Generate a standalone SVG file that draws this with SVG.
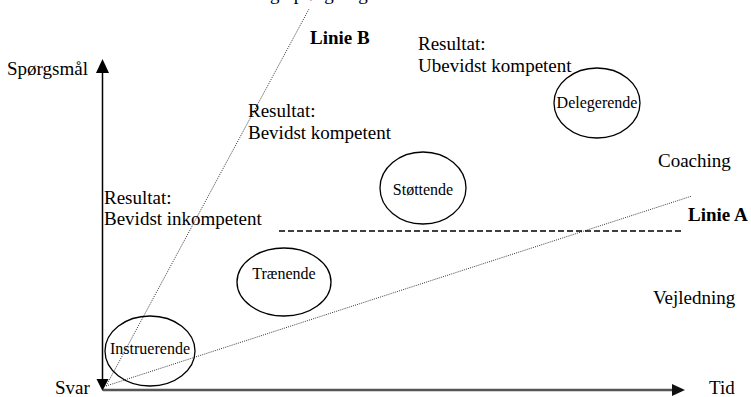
<svg xmlns="http://www.w3.org/2000/svg" width="751" height="397" viewBox="0 0 751 397">
  <style>
    text { font-family: "Liberation Serif", "DejaVu Serif", "Times New Roman", serif; fill: #000; }
    .t { font-size: 19px; }
    .b { font-weight: bold; }
    .n { font-size: 16px; text-anchor: middle; }
    .node ellipse { fill: none; stroke: #000; stroke-width: 1.3; }
    .dot { fill: none; stroke: #333; stroke-width: 1; stroke-dasharray: 1 1.2; }
    .dash { fill: none; stroke: #000; stroke-width: 1.3; stroke-dasharray: 6 3; }
  </style>
  <rect width="751" height="397" fill="#fff"/>

  <!-- heading, mostly above the top edge -->
  <text class="t" font-family="Liberation Serif, serif" x="156" y="-0.5">Ledelsesmæssig opfølgning</text>

  <g id="connectors">
    <!-- axes -->
    <line x1="102.5" y1="72" x2="102.5" y2="380" stroke="#000" stroke-width="1.5"/>
    <polygon points="102.5,59 96,73 109,73" fill="#000"/>
    <polygon points="102.5,391 96.5,379 108.5,379" fill="#000"/>
    <line x1="103" y1="390" x2="674" y2="390" stroke="#555" stroke-width="2.5"/>
    <polygon points="685,390 672,384 672,396" fill="#111"/>
    <!-- Linie B and Linie A -->
    <line class="dot" x1="106" y1="386" x2="309" y2="9"/>
    <line class="dot" x1="106" y1="386" x2="692" y2="196"/>
    <!-- boundary between coaching and vejledning -->
    <line class="dash" x1="279" y1="231" x2="681" y2="231"/>
  </g>

  <g id="instruerende" class="node">
    <ellipse cx="150" cy="351" rx="45" ry="35"/>
    <text class="n" font-family="Liberation Serif, serif" x="150" y="354">Instruerende</text>
  </g>
  <g id="traenende" class="node">
    <ellipse cx="284" cy="282" rx="47" ry="34"/>
    <text class="n" font-family="Liberation Serif, serif" x="284" y="279">Trænende</text>
  </g>
  <g id="stoettende" class="node">
    <ellipse cx="423" cy="188" rx="43" ry="36"/>
    <text class="n" font-family="Liberation Serif, serif" x="423" y="195">Støttende</text>
  </g>
  <g id="delegerende" class="node">
    <ellipse cx="597" cy="103" rx="43" ry="35"/>
    <text class="n" font-family="Liberation Serif, serif" x="597" y="108">Delegerende</text>
  </g>

  <!-- axis labels -->
  <text class="t" font-family="Liberation Serif, serif" x="7" y="75">Spørgsmål</text>
  <text class="t" font-family="Liberation Serif, serif" x="55" y="394">Svar</text>
  <text class="t" font-family="Liberation Serif, serif" x="709" y="394">Tid</text>

  <!-- line labels -->
  <text class="t b" font-family="Liberation Serif, serif" x="310" y="44">Linie B</text>
  <text class="t b" font-family="Liberation Serif, serif" x="688" y="221">Linie A</text>

  <!-- zones -->
  <text class="t" font-family="Liberation Serif, serif" x="658" y="167">Coaching</text>
  <text class="t" font-family="Liberation Serif, serif" x="653" y="304">Vejledning</text>

  <!-- results -->
  <text class="t" font-family="Liberation Serif, serif" x="418" y="50">Resultat:</text>
  <text class="t" font-family="Liberation Serif, serif" x="418" y="72">Ubevidst kompetent</text>
  <text class="t" font-family="Liberation Serif, serif" x="248" y="117">Resultat:</text>
  <text class="t" font-family="Liberation Serif, serif" x="248" y="139">Bevidst kompetent</text>
  <text class="t" font-family="Liberation Serif, serif" x="104" y="204">Resultat:</text>
  <text class="t" font-family="Liberation Serif, serif" x="104" y="225">Bevidst inkompetent</text>
</svg>
